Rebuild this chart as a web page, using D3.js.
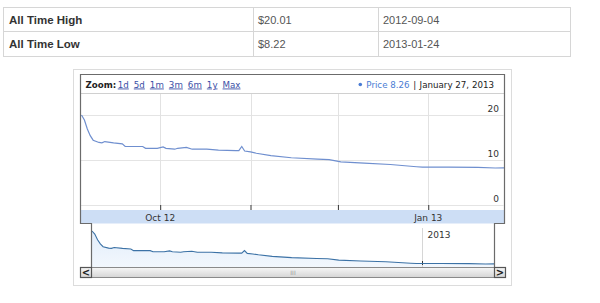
<!DOCTYPE html>
<html><head><meta charset="utf-8">
<script src="https://cdn.jsdelivr.net/npm/d3@7"></script>
<style>body{margin:0;background:#fff}svg{display:block}</style>
</head><body><svg id="c" width="600" height="303"></svg>
<script>
const statLabels = ["All Time High", "All Time Low"];
const statValues = ["$20.01", "$8.22"];
const statDates = ["2012-09-04", "2013-01-24"];
const zoomLinks = ["1d", "5d", "1m", "3m", "6m", "1y", "Max"];
const seriesName = "Price";
const lastValue = "8.26";
const lastDate = "January 27, 2013";
const dates = ["2012-09-04","2012-09-05","2012-09-06","2012-09-07","2012-09-08","2012-09-10","2012-09-11","2012-09-12","2012-09-15","2012-09-18","2012-09-19","2012-09-25","2012-09-26","2012-09-30","2012-10-02","2012-10-03","2012-10-06","2012-10-07","2012-10-10","2012-10-12","2012-10-17","2012-10-21","2012-10-27","2012-10-28","2012-10-29","2012-10-30","2012-11-01","2012-11-03","2012-11-08","2012-11-15","2012-11-24","2012-11-28","2012-12-02","2012-12-10","2012-12-19","2012-12-28","2012-12-30","2013-01-08","2013-01-18","2013-01-24","2013-01-27"];
const prices = [20.01,18.9,16.9,15.4,14.4,13.9,13.8,14.1,13.8,13.6,13.0,13.0,12.6,12.6,12.9,12.6,12.4,12.6,12.8,12.4,12.4,12.2,12.1,12.1,13.0,12.0,11.8,11.5,10.96,10.5,10.2,10.07,9.6,9.3,9.0,8.5,8.4,8.4,8.35,8.22,8.26];
const yTicks = [0, 10, 20];
const xLabelDates = ["2012-10-01", "2013-01-01"];
const xLabels = ["Oct 12", "Jan 13"];
const navYearDates = ["2013-01-01"];
const navYearLabels = ["2013"];

const parse = d3.timeParse("%Y-%m-%d");
const data = dates.map((d, i) => ({ d: parse(d), v: prices[i] }));
const svg = d3.select("#c");
svg.append("rect").attr("width", 600).attr("height", 303).attr("fill", "#fff");

// ---- Stats table ----
const tbl = svg.append("g");
const colX = [3.5, 253.5, 378.5, 570.5];
const rowY = [7.5, 31.5, 56.5];
tbl.append("rect").attr("x", colX[0]).attr("y", rowY[0]).attr("width", colX[3] - colX[0]).attr("height", rowY[2] - rowY[0])
  .attr("fill", "none").attr("stroke", "#d6d6d6");
tbl.append("line").attr("x1", colX[0]).attr("x2", colX[3]).attr("y1", rowY[1]).attr("y2", rowY[1]).attr("stroke", "#d6d6d6");
[colX[1], colX[2]].forEach(x => tbl.append("line").attr("x1", x).attr("x2", x).attr("y1", rowY[0]).attr("y2", rowY[2]).attr("stroke", "#d6d6d6"));
statLabels.forEach((t, i) => {
  const cy = (rowY[i] + rowY[i + 1]) / 2 + 4;
  tbl.append("text").attr("x", 9).attr("y", cy).text(t)
    .attr("font-family", "Liberation Sans, Arial").attr("font-size", 11.5).attr("font-weight", "bold").attr("fill", "#333");
  tbl.append("text").attr("x", 258).attr("y", cy).text(statValues[i])
    .attr("font-family", "Liberation Sans, Arial").attr("font-size", 11).attr("fill", "#555");
  tbl.append("text").attr("x", 383).attr("y", cy).text(statDates[i])
    .attr("font-family", "Liberation Sans, Arial").attr("font-size", 11).attr("fill", "#555");
});

// ---- Chart container ----
const font = "DejaVu Sans, Verdana";
svg.append("rect").attr("x", 73.5).attr("y", 69.5).attr("width", 438).attr("height", 216)
  .attr("fill", "#fff").attr("stroke", "#dcdcdc");

const L = 80.5, R = 504.5, T = 74.5;
const headB = 93, plotB = 210, bandB = 223.5;
const navL = 91.5, navR = 494.5, navB = 267;
const sbT = 267, sbB = 277;

// header separator
svg.append("line").attr("x1", L).attr("x2", R).attr("y1", headB + 0.5).attr("y2", headB + 0.5).attr("stroke", "#d0d0d0");

// scales
const x = d3.scaleTime().domain([parse("2012-09-04"), parse("2013-01-27")]).range([81.5, 504]);
const y = d3.scaleLinear().domain([0, 20]).range([205, 115]);
const xn = d3.scaleTime().domain(x.domain()).range([92, 494]);
const yn = d3.scaleLinear().domain([d3.min(prices), d3.max(prices)]).range([264, 231]);

// gridlines
const months = d3.timeMonth.range(d3.timeMonth.ceil(x.domain()[0]), x.domain()[1]);
const grid = svg.append("g");
yTicks.forEach(t => grid.append("line").attr("x1", L).attr("x2", R - 1).attr("y1", Math.round(y(t)) + 0.5).attr("y2", Math.round(y(t)) + 0.5).attr("stroke", "#e4e4e4"));
months.forEach(m => grid.append("line").attr("x1", Math.round(x(m)) + 0.5).attr("x2", Math.round(x(m)) + 0.5).attr("y1", headB + 1).attr("y2", 205).attr("stroke", "#e2e2e2"));

// x axis ticks
const xAxis = d3.axisBottom(x).tickValues(months).tickSize(5).tickFormat("");
const ax = svg.append("g").attr("transform", "translate(0,205)").call(xAxis);
ax.select(".domain").remove();
ax.selectAll(".tick line").attr("stroke", "#333").attr("y1", 0).attr("y2", 5);

// y labels
yTicks.forEach(t => svg.append("text").attr("x", 499).attr("y", y(t) - 3.5).attr("text-anchor", "end")
  .attr("font-family", font).attr("font-size", 9).attr("fill", "#333").text(t));

// main line
svg.append("clipPath").attr("id", "pc").append("rect").attr("x", L).attr("y", headB).attr("width", R - L).attr("height", plotB - headB);
svg.append("path").datum(data).attr("clip-path", "url(#pc)")
  .attr("d", d3.line().x(d => x(d.d)).y(d => y(d.v)))
  .attr("fill", "none").attr("stroke", "#6f8fcf").attr("stroke-width", 1.2);

// label band
svg.append("rect").attr("x", L).attr("y", plotB).attr("width", R - L).attr("height", bandB - plotB).attr("fill", "#cddef5");
xLabelDates.forEach((d, i) => svg.append("text").attr("x", x(parse(d))).attr("y", 220.5).attr("text-anchor", "middle")
  .attr("font-family", font).attr("font-size", 9).attr("fill", "#333").text(xLabels[i]));

// navigator
const defs = svg.append("defs");
const g1 = defs.append("linearGradient").attr("id", "nf").attr("x1", 0).attr("y1", 0).attr("x2", 0).attr("y2", 1);
g1.append("stop").attr("offset", "0%").attr("stop-color", "#e2edfa");
g1.append("stop").attr("offset", "100%").attr("stop-color", "#f2f7fd");
svg.append("path").datum(data)
  .attr("d", d3.area().x(d => xn(d.d)).y0(navB).y1(d => yn(d.v)))
  .attr("fill", "url(#nf)");
navYearDates.forEach((d, i) => {
  const xx = Math.round(xn(parse(d))) + 0.5;
  svg.append("line").attr("x1", xx).attr("x2", xx).attr("y1", 228).attr("y2", navB).attr("stroke", "#d6d6d6");
  svg.append("line").attr("x1", xx).attr("x2", xx).attr("y1", 261).attr("y2", navB - 2).attr("stroke", "#333");
  svg.append("text").attr("x", xx + 5).attr("y", 237.5).attr("font-family", font).attr("font-size", 9).attr("fill", "#333").text(navYearLabels[i]);
});
svg.append("path").datum(data)
  .attr("d", d3.line().x(d => xn(d.d)).y(d => yn(d.v)))
  .attr("fill", "none").attr("stroke", "#3c72a6").attr("stroke-width", 1.1);

// dark frame
const frame = d3.path();
frame.moveTo(navL, navB); frame.lineTo(navL, bandB); frame.lineTo(L, bandB); frame.lineTo(L, T);
frame.lineTo(R, T); frame.lineTo(R, bandB); frame.lineTo(navR, bandB); frame.lineTo(navR, navB);
svg.append("path").attr("d", frame.toString()).attr("fill", "none").attr("stroke", "#6b6b6b").attr("stroke-width", 1.2);

// scrollbar
const g2 = defs.append("linearGradient").attr("id", "sb").attr("x1", 0).attr("y1", 0).attr("x2", 0).attr("y2", 1);
g2.append("stop").attr("offset", "0%").attr("stop-color", "#f7f7f7");
g2.append("stop").attr("offset", "100%").attr("stop-color", "#d5d5d5");
svg.append("rect").attr("x", navL).attr("y", sbT + 0.5).attr("width", navR - navL).attr("height", sbB - sbT)
  .attr("fill", "url(#sb)").attr("stroke", "#8a8a8a");
svg.append("text").attr("x", (navL + navR) / 2).attr("y", 274.5).attr("text-anchor", "middle")
  .attr("font-family", font).attr("font-size", 6).attr("fill", "#999").text("III");
[[L, "<"], [navR, ">"]].forEach(([bx, ch]) => {
  svg.append("rect").attr("x", bx).attr("y", sbT + 0.5).attr("width", 11).attr("height", sbB - sbT)
    .attr("fill", "url(#sb)").attr("stroke", "#555").attr("stroke-width", 1.2);
  svg.append("text").attr("x", bx + 5.5).attr("y", 275.5).attr("text-anchor", "middle")
    .attr("font-family", font).attr("font-size", 10).attr("font-weight", "bold").attr("fill", "#222").text(ch);
});

// header content
const hy = 87.5;
const zt = svg.append("text").attr("x", 85.5).attr("y", hy).attr("font-family", font).attr("font-size", 8.7)
  .attr("font-weight", "bold").attr("fill", "#222").text("Zoom:");
let cx = 85.5 + zt.node().getComputedTextLength() + 1.5;
zoomLinks.forEach(z => {
  const t = svg.append("text").attr("x", cx).attr("y", hy).attr("font-family", font).attr("font-size", 8.7)
    .attr("fill", "#3a4fa6").attr("text-decoration", "underline").text(z);
  cx += t.node().getComputedTextLength() + 5;
});
const dt = svg.append("text").attr("x", 494).attr("y", hy).attr("text-anchor", "end").attr("font-family", font)
  .attr("font-size", 8.7).attr("fill", "#222").text(lastDate);
const dStart = 494 - dt.node().getComputedTextLength();
svg.append("text").attr("x", dStart - 5).attr("y", hy).attr("text-anchor", "middle").attr("font-family", font)
  .attr("font-size", 8.7).attr("fill", "#222").text("|");
const pt = svg.append("text").attr("x", dStart - 10).attr("y", hy).attr("text-anchor", "end").attr("font-family", font)
  .attr("font-size", 8.7).attr("fill", "#4a7cd4").text(seriesName + " " + lastValue);
const pStart = dStart - 10 - pt.node().getComputedTextLength();
svg.append("circle").attr("cx", pStart - 6).attr("cy", 84.5).attr("r", 1.8).attr("fill", "#4a7cd4");
</script></body></html>
